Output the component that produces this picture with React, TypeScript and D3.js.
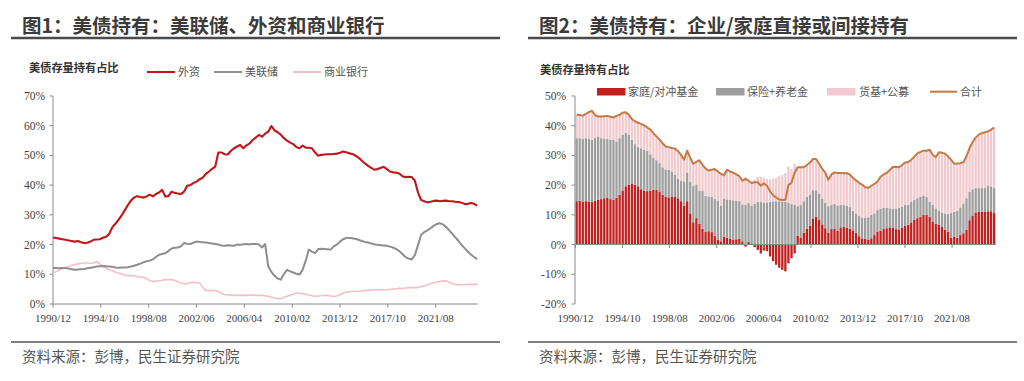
import React from "react";
import * as d3 from "d3";

// ---------- shared categories ----------
const xTickLabels = ["1990/12", "1994/10", "1998/08", "2002/06", "2006/04", "2010/02", "2013/12", "2017/10", "2021/08"];
const leftYTicks = [0, 10, 20, 30, 40, 50, 60, 70];
const rightYTicks = [-20, -10, 0, 10, 20, 30, 40, 50];

// ---------- Figure 1: share of Treasuries held (%), quarterly 1990/12 .. 2024/12 ----------
const foreignShare = [
  22.4, 22.2, 22.0, 21.8, 21.6, 21.4, 21.2, 21.0, 21.2, 20.8,
  20.5, 20.6, 21.0, 21.6, 21.7, 21.8, 22.3, 22.6, 23.5, 25.8,
  27.0, 28.3, 29.8, 31.5, 33.3, 34.8, 35.8, 36.3, 36.0, 35.8,
  36.2, 36.8, 36.2, 37.0, 37.5, 38.4, 36.2, 36.3, 37.8, 37.4,
  37.2, 37.0, 37.8, 39.8, 40.0, 40.7, 41.2, 42.0, 42.5, 43.8,
  44.6, 45.5, 46.2, 51.0, 51.0, 50.4, 50.3, 51.5, 52.4, 53.0,
  53.5, 52.4, 53.4, 54.0, 55.2, 56.0, 56.9, 56.3, 57.3, 58.0,
  59.9, 58.4, 57.8, 57.0, 55.8, 55.0, 54.3, 53.8, 52.8, 52.4,
  53.3, 52.6, 52.6, 52.4, 51.0, 49.9, 50.2, 50.3, 50.4, 50.4,
  50.5, 50.6, 50.9, 51.3, 51.1, 50.7, 50.5, 49.9, 49.2, 48.2,
  47.3, 46.5, 45.8, 45.2, 45.4, 45.8, 46.2, 45.4, 44.6, 44.3,
  44.2, 43.9, 43.0, 42.7, 42.8, 42.7, 41.5, 37.5, 35.0, 34.6,
  34.2, 34.4, 34.7, 34.8, 34.6, 34.7, 34.8, 34.6, 34.6, 34.4,
  34.3, 34.1, 33.6, 33.7, 34.0, 33.7, 33.1,
];
const fedShare = [
  12.1, 12.1, 12.0, 12.1, 12.1, 11.9, 11.7, 11.5, 11.6, 11.7,
  11.8, 12.0, 12.2, 12.4, 12.6, 12.7, 12.8, 12.7, 12.6, 12.5,
  12.3, 12.2, 12.3, 12.3, 12.4, 12.6, 12.9, 13.2, 13.6, 14.0,
  14.4, 14.6, 15.0, 15.8, 16.6, 16.8, 17.1, 17.8, 18.7, 18.9,
  19.0, 19.4, 20.5, 20.3, 20.2, 20.6, 21.0, 20.9, 20.8, 20.7,
  20.5, 20.4, 20.2, 20.0, 19.7, 19.6, 19.8, 19.7, 19.6, 20.0,
  19.9, 20.1, 20.2, 20.1, 20.2, 20.2, 20.0, 19.0, 20.2, 12.7,
  10.8, 9.5, 8.6, 8.2, 10.0, 11.5, 11.0, 10.6, 10.2, 9.9,
  11.5, 14.5, 18.3, 17.6, 17.1, 18.5, 18.6, 18.5, 18.4, 18.3,
  19.4, 20.0, 21.0, 21.8, 22.2, 22.2, 22.1, 21.9, 21.6, 21.2,
  20.9, 20.7, 20.4, 20.1, 19.9, 19.8, 19.7, 19.6, 19.3, 19.0,
  18.5, 17.8, 16.8, 15.8, 15.3, 15.0, 16.5, 19.8, 23.3, 24.2,
  24.8, 25.5, 26.3, 26.9, 27.2, 26.8, 25.9, 24.8, 23.6, 22.4,
  21.2, 19.8, 18.7, 17.6, 16.6, 15.8, 15.1,
];
const bankShare = [
  10.4, 10.9, 11.4, 11.9, 12.3, 12.6, 13.0, 13.3, 13.5, 13.7,
  13.8, 13.8, 13.7, 13.8, 14.3, 13.5, 12.7, 12.1, 11.5, 11.2,
  10.8, 10.4, 10.1, 9.8, 9.5, 9.6, 9.4, 9.2, 9.1, 9.0,
  8.5, 7.9, 7.6, 7.7, 7.8, 8.0, 8.2, 8.2, 8.2, 8.0,
  7.4, 7.1, 6.8, 6.8, 7.2, 7.3, 7.2, 7.1, 5.6, 4.6,
  4.5, 4.5, 4.5, 4.2, 3.6, 3.2, 3.1, 3.0, 2.9, 2.9,
  2.9, 3.0, 2.9, 3.0, 3.0, 2.9, 2.9, 2.9, 2.8, 2.6,
  2.3, 2.0, 1.9, 1.8, 2.3, 2.6, 2.9, 3.3, 3.7, 3.6,
  3.5, 3.3, 3.0, 2.8, 2.6, 2.7, 2.8, 2.9, 2.9, 2.7,
  2.5, 2.7, 3.1, 3.6, 4.0, 4.1, 4.2, 4.3, 4.3, 4.4,
  4.5, 4.6, 4.7, 4.8, 4.8, 4.8, 4.8, 4.8, 4.9, 5.0,
  5.1, 5.3, 5.2, 5.4, 5.5, 5.5, 5.5, 5.6, 5.8, 6.1,
  6.5, 6.8, 7.1, 7.4, 7.6, 7.8, 7.7, 7.3, 6.8, 6.6,
  6.5, 6.4, 6.5, 6.6, 6.6, 6.6, 6.7,
];

// ---------- Figure 2: direct / indirect holdings (%), quarterly ----------
const householdShare = [
  14.6, 14.7, 14.5, 14.6, 14.4, 14.3, 14.8, 15.1, 15.3, 15.6,
  15.7, 15.3, 15.1, 15.8, 16.8, 18.2, 19.6, 20.2, 20.4, 20.1,
  19.6, 18.6, 18.1, 18.0, 18.1, 18.4, 18.5, 17.9, 16.8, 16.1,
  15.9, 16.0, 16.2, 15.6, 14.6, 13.0, 14.6, 10.5, 7.5, 8.9,
  7.0, 5.3, 4.4, 4.5, 4.2, 3.0, 1.6, 1.1, 2.6, 2.3,
  1.9, 1.7, 1.8, 2.0, 1.1, -0.7, 1.0, 0.4, -0.9, -1.8,
  -3.0, -2.0, -2.2, -4.0, -5.6, -6.8, -7.8, -8.5, -9.0, -6.3,
  -4.6, -3.0, 3.0, 2.2, 4.0, 5.3, 6.3, 8.6, 9.3, 8.3,
  6.8, 5.5, 3.9, 5.2, 5.4, 4.7, 5.8, 5.9, 5.7, 5.4,
  4.8, 4.0, 2.8, 2.1, 2.0, 1.7, 2.1, 3.2, 4.4, 4.6,
  5.2, 5.5, 5.8, 5.6, 5.2, 5.1, 5.6, 6.3, 6.7, 7.5,
  8.3, 8.9, 9.4, 10.0, 10.0, 9.3, 7.8, 7.0, 6.6, 5.9,
  5.0, 4.3, 2.3, 2.7, 2.3, 3.2, 3.8, 5.0, 8.2, 9.8,
  10.8, 11.1, 11.1, 11.0, 11.2, 11.2, 10.6,
];
const insuranceShare = [
  21.2, 21.1, 21.1, 21.2, 21.2, 21.0, 21.1, 21.3, 20.5, 20.0,
  19.8, 20.0, 20.2, 18.9, 19.0, 18.8, 18.1, 16.7, 14.8, 13.7,
  13.2, 13.8, 13.9, 13.6, 12.3, 10.9, 9.9, 9.5, 9.2, 9.2,
  9.3, 8.6, 7.3, 6.6, 6.9, 8.3, 9.5, 10.7, 12.3, 11.3,
  11.1, 12.9, 12.0, 11.7, 11.8, 12.3, 13.2, 11.9, 12.9, 12.9,
  13.2, 13.2, 12.9, 12.6, 12.4, 13.4, 13.0, 12.6, 13.8, 14.3,
  14.3, 14.1, 14.2, 14.4, 14.5, 14.6, 14.6, 14.5, 14.4, 14.2,
  13.6, 13.4, 9.9, 11.1, 10.6, 10.8, 10.4, 9.7, 9.0, 8.9,
  8.7, 8.5, 9.0, 8.1, 8.3, 8.3, 7.5, 7.4, 7.4, 7.2,
  6.6, 6.5, 6.8, 7.0, 7.0, 7.5, 7.9, 7.3, 7.2, 7.5,
  7.2, 6.9, 6.4, 6.5, 7.0, 7.3, 7.2, 7.0, 6.7, 7.0,
  6.7, 6.7, 6.7, 6.5, 6.0, 5.2, 5.5, 5.2, 4.9, 4.9,
  5.5, 6.0, 8.3, 8.4, 9.1, 9.3, 10.0, 10.6, 9.6, 8.8,
  8.2, 7.9, 7.9, 8.2, 8.7, 8.4, 8.4,
];
const fundShare = [
  7.9, 7.8, 7.8, 8.2, 9.0, 9.7, 7.7, 6.7, 7.3, 7.6,
  7.8, 7.7, 7.5, 8.6, 7.9, 7.4, 6.8, 6.8, 7.0, 7.7,
  8.2, 8.2, 8.1, 7.8, 8.3, 8.2, 8.0, 7.9, 8.1, 7.7,
  7.6, 7.9, 8.8, 9.3, 8.7, 7.3, 7.5, 8.0, 7.4, 7.6,
  10.3, 8.6, 9.2, 8.7, 9.2, 10.1, 9.8, 10.8, 7.8, 10.0,
  9.5, 9.3, 8.9, 8.4, 8.0, 9.4, 7.5, 7.7, 8.1, 8.5,
  8.5, 8.5, 7.8, 7.5, 7.7, 8.0, 8.4, 9.0, 9.7, 12.1,
  11.8, 13.8, 13.1, 12.7, 11.4, 10.7, 10.9, 10.5, 10.5, 10.0,
  10.0, 10.2, 8.9, 10.3, 10.6, 11.1, 10.8, 10.7, 11.0, 11.0,
  11.1, 11.1, 11.2, 11.1, 10.3, 9.9, 9.8, 9.9, 9.6, 10.7,
  11.2, 11.7, 12.9, 14.0, 14.0, 13.6, 14.0, 14.3, 14.4, 14.0,
  14.6, 15.1, 15.1, 15.1, 15.6, 17.4, 16.9, 17.2, 19.6, 20.1,
  20.1, 19.4, 17.9, 16.1, 15.9, 14.9, 13.9, 14.2, 14.7, 15.9,
  17.0, 18.0, 18.5, 18.6, 18.2, 19.1, 20.4,
];

const legend1 = ["外资", "美联储", "商业银行"];
const legend2 = ["家庭/对冲基金", "保险+养老金", "货基+公募", "合计"];

const START = new Date(1990, 11, 1);
const quarters = d3.range(foreignShare.length).map((i) => d3.timeMonth.offset(START, 3 * i));
const parseTick = d3.timeParse("%Y/%m");

const CJK = "'Noto Sans CJK SC', 'Noto Sans', sans-serif";
const NUM = "'Liberation Serif', 'DejaVu Serif', serif";
const AXIS = "#8a8a8a";
const TXT = "#404040";

const C_RED = "#C0161B";
const C_GRAY = "#8E8E8E";
const C_PINK = "#F3C0C4";
const C_BAR_RED = "#C0201E";
const C_BAR_GRAY = "#9E9E9E";
const C_BAR_PINK = "#F2CACD";
const C_TOTAL = "#C47A45";

function Frame({ x0, x1, title }: { x0: number; x1: number; title: string }) {
  return (
    <g>
      <text x={x0 + 11} y={33} fontFamily={CJK} fontWeight={700} fontSize={19.5} fill="#3b3b3b">
        {title}
      </text>
      <line x1={x0} x2={x1} y1={38} y2={38} stroke="#4a4a4a" strokeWidth={2.5} />
      <line x1={x0} x2={x1} y1={342} y2={342} stroke="#555" strokeWidth={1.6} />
      <text x={x0 + 11} y={362} fontFamily={CJK} fontSize={14.5} fill="#555">
        资料来源：彭博，民生证券研究院
      </text>
    </g>
  );
}

function Panel1() {
  const x = d3.scaleTime().domain([quarters[0], quarters[quarters.length - 1]]).range([53, 477.3]);
  const y = d3.scaleLinear().domain([0, 70]).range([304, 96]);
  const mk = d3
    .line<number>()
    .x((_, i) => x(quarters[i]))
    .y((v) => y(v));
  const series = [
    { vals: bankShare, color: C_PINK, w: 1.6 },
    { vals: fedShare, color: C_GRAY, w: 2 },
    { vals: foreignShare, color: C_RED, w: 2.1 },
  ];
  const legendItems = [
    { label: legend1[0], color: C_RED, lx: 147, tx: 178 },
    { label: legend1[1], color: C_GRAY, lx: 214, tx: 245 },
    { label: legend1[2], color: C_PINK, lx: 293, tx: 324 },
  ];
  return (
    <g>
      <Frame x0={11} x1={500} title="图1：美债持有：美联储、外资和商业银行" />
      <text x={29} y={72} fontFamily={CJK} fontWeight={700} fontSize={11.2} fill="#333">
        美债存量持有占比
      </text>
      {legendItems.map((d) => (
        <g key={d.label}>
          <line x1={d.lx} x2={d.lx + 28} y1={72} y2={72} stroke={d.color} strokeWidth={2} />
          <text x={d.tx} y={76} fontFamily={CJK} fontSize={11} fill="#555">
            {d.label}
          </text>
        </g>
      ))}
      {/* axes */}
      <line x1={53} x2={53} y1={y(70)} y2={y(0)} stroke={AXIS} strokeWidth={1} />
      <line x1={53} x2={477.7} y1={y(0)} y2={y(0)} stroke={AXIS} strokeWidth={1} />
      {leftYTicks.map((t) => (
        <g key={t}>
          <line x1={49.5} x2={53} y1={y(t)} y2={y(t)} stroke={AXIS} />
          <text x={45} y={y(t) + 4} textAnchor="end" fontFamily={NUM} fontSize={11.5} fill={TXT}>
            {t}%
          </text>
        </g>
      ))}
      {xTickLabels.map((l) => {
        const px = x(parseTick(l) as Date);
        return (
          <g key={l}>
            <line x1={px} x2={px} y1={y(0)} y2={y(0) + 3.5} stroke={AXIS} />
            <text x={px} y={322} textAnchor="middle" fontFamily={NUM} fontSize={11} fill={TXT}>
              {l}
            </text>
          </g>
        );
      })}
      {series.map((s, i) => (
        <path key={i} d={mk(s.vals) || ""} fill="none" stroke={s.color} strokeWidth={s.w} strokeLinejoin="round" />
      ))}
    </g>
  );
}

function Panel2() {
  const x = d3.scaleTime().domain([quarters[0], quarters[quarters.length - 1]]).range([575.5, 993]);
  const y = d3.scaleLinear().domain([-20, 50]).range([304, 96]);
  const bw = 2.3;
  const rows = quarters.map((d, i) => ({
    date: d,
    hh: householdShare[i],
    ins: insuranceShare[i],
    mf: fundShare[i],
  }));
  const stacked = d3
    .stack<any>()
    .keys(["hh", "ins", "mf"])
    .offset(d3.stackOffsetDiverging)(rows);
  const colors = [C_BAR_RED, C_BAR_GRAY, C_BAR_PINK];
  const totals = rows.map((r) => r.hh + r.ins + r.mf);
  const totalLine = d3
    .line<number>()
    .x((_, i) => x(quarters[i]) + bw / 2)
    .y((v) => y(v));
  const axisX = 575;
  const legendRects = [
    { label: legend2[0], color: C_BAR_RED, rx: 597, tx: 628 },
    { label: legend2[1], color: C_BAR_GRAY, rx: 716, tx: 747 },
    { label: legend2[2], color: C_BAR_PINK, rx: 827, tx: 859 },
  ];
  return (
    <g>
      <Frame x0={528} x1={1017} title="图2：美债持有：企业/家庭直接或间接持有" />
      <text x={540} y={74} fontFamily={CJK} fontWeight={700} fontSize={11.2} fill="#333">
        美债存量持有占比
      </text>
      {legendRects.map((d) => (
        <g key={d.label}>
          <rect x={d.rx} y={88} width={28.5} height={7.5} fill={d.color} />
          <text x={d.tx} y={96} fontFamily={CJK} fontSize={11} fill="#555">
            {d.label}
          </text>
        </g>
      ))}
      <line x1={930} x2={957} y1={91.7} y2={91.7} stroke={C_TOTAL} strokeWidth={2} />
      <text x={960} y={96} fontFamily={CJK} fontSize={11} fill="#555">
        {legend2[3]}
      </text>
      {/* bars */}
      {stacked.map((layer, li) => (
        <g key={li} fill={colors[li]}>
          {layer.map((seg, i) => {
            const a = y(seg[0]);
            const b = y(seg[1]);
            return (
              <rect
                key={i}
                x={x(quarters[i])}
                y={Math.min(a, b)}
                width={bw}
                height={Math.abs(a - b)}
              />
            );
          })}
        </g>
      ))}
      {/* axes */}
      <line x1={axisX} x2={axisX} y1={y(50)} y2={y(-20)} stroke={AXIS} strokeWidth={1} />
      <line x1={axisX} x2={996} y1={y(0)} y2={y(0)} stroke={AXIS} strokeWidth={1} />
      {rightYTicks.map((t) => (
        <g key={t}>
          <line x1={571.5} x2={axisX} y1={y(t)} y2={y(t)} stroke={AXIS} />
          <text x={566} y={y(t) + 4} textAnchor="end" fontFamily={NUM} fontSize={11.5} fill={TXT}>
            {t}%
          </text>
        </g>
      ))}
      {xTickLabels.map((l) => {
        const px = x(parseTick(l) as Date);
        return (
          <g key={l}>
            <line x1={px} x2={px} y1={y(0)} y2={y(0) + 3.5} stroke={AXIS} />
            <text x={px} y={322} textAnchor="middle" fontFamily={NUM} fontSize={11} fill={TXT}>
              {l}
            </text>
          </g>
        );
      })}
      <path d={totalLine(totals) || ""} fill="none" stroke={C_TOTAL} strokeWidth={2} strokeLinejoin="round" />
    </g>
  );
}

export default function App() {
  return (
    <svg
      width={1024}
      height={381}
      viewBox="0 0 1024 381"
      style={{ position: "absolute", left: 0, top: 0, background: "#fff" }}
    >
      <rect x={0} y={0} width={1024} height={381} fill="#fff" />
      <Panel1 />
      <Panel2 />
    </svg>
  );
}
